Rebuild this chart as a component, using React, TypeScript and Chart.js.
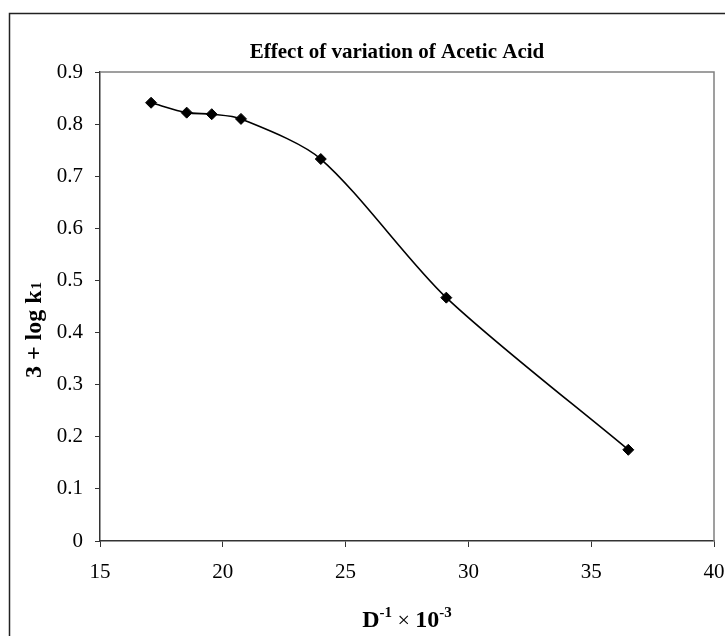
import React, { useEffect, useRef } from 'react';
import { Chart, registerables } from 'chart.js';

Chart.register(...registerables);

const TITLE = 'Effect of variation of Acetic Acid';
const Y_TITLE_MAIN = '3 + log k';
const Y_TITLE_SUB = '1';
const X_TITLE_PARTS = [
  { text: 'D', kind: 'main' },
  { text: '-1', kind: 'sup' },
  { text: ' \u00d7 ', kind: 'plain' },
  { text: '10', kind: 'main' },
  { text: '-3', kind: 'sup' },
];

const X_VALUES = [17.08, 18.53, 19.55, 20.74, 23.99, 29.1, 36.51];
const Y_VALUES = [0.841, 0.822, 0.819, 0.81, 0.733, 0.467, 0.175];
const X_TICKS = [15, 20, 25, 30, 35, 40];
const Y_TICKS = [0, 0.1, 0.2, 0.3, 0.4, 0.5, 0.6, 0.7, 0.8, 0.9];

const SERIF = '"Liberation Serif", "Times New Roman", serif';

const decorPlugin = {
  id: 'decor',
  beforeDatasetsDraw(chart: any) {
    const ctx = chart.ctx;
    const a = chart.chartArea;
    ctx.save();
    ctx.strokeStyle = '#808080';
    ctx.lineWidth = 1.5;
    ctx.beginPath();
    ctx.moveTo(a.left, a.top);
    ctx.lineTo(a.right, a.top);
    ctx.lineTo(a.right, a.bottom);
    ctx.stroke();
    ctx.restore();
  },
  afterDraw(chart: any) {
    const ctx = chart.ctx;
    const a = chart.chartArea;
    ctx.save();
    // outer frame
    ctx.strokeStyle = '#222';
    ctx.lineWidth = 1.5;
    ctx.strokeRect(9.5, 13.5, 900, 900);

    // chart title
    ctx.fillStyle = '#000';
    ctx.font = `bold 21px ${SERIF}`;
    ctx.textAlign = 'center';
    ctx.textBaseline = 'alphabetic';
    ctx.fillText(TITLE, 397, 58);

    // y axis title (rotated)
    ctx.save();
    ctx.translate(33, 330);
    ctx.rotate(-Math.PI / 2);
    ctx.textAlign = 'left';
    ctx.textBaseline = 'alphabetic';
    const mainFont = `bold 24px ${SERIF}`;
    const subFont = `bold 15px ${SERIF}`;
    ctx.font = mainFont;
    const wMain = ctx.measureText(Y_TITLE_MAIN).width;
    ctx.font = subFont;
    const wSub = ctx.measureText(Y_TITLE_SUB).width;
    const total = wMain + wSub + 1;
    const x0 = -total / 2;
    ctx.font = mainFont;
    ctx.fillText(Y_TITLE_MAIN, x0, 8);
    ctx.font = subFont;
    ctx.fillText(Y_TITLE_SUB, x0 + wMain + 1, 8);
    ctx.restore();

    // x axis title with superscripts
    const fonts: Record<string, string> = {
      main: `bold 24px ${SERIF}`,
      sup: `bold 15px ${SERIF}`,
      plain: `22px ${SERIF}`,
    };
    const offs: Record<string, number> = { main: 0, sup: -10, plain: 0 };
    ctx.textAlign = 'left';
    ctx.textBaseline = 'alphabetic';
    let tw = 0;
    const widths = X_TITLE_PARTS.map((p) => {
      ctx.font = fonts[p.kind];
      const w = ctx.measureText(p.text).width;
      tw += w;
      return w;
    });
    let cx = (a.left + a.right) / 2 - tw / 2;
    const baseY = 627;
    X_TITLE_PARTS.forEach((p, i) => {
      ctx.font = fonts[p.kind];
      ctx.fillText(p.text, cx, baseY + offs[p.kind]);
      cx += widths[i];
    });
    ctx.restore();
  },
};

export default function App() {
  const ref = useRef<HTMLCanvasElement>(null);
  useEffect(() => {
    const canvas = ref.current;
    if (!canvas) return;
    const chart = new Chart(canvas, {
      type: 'scatter',
      data: {
        datasets: [
          {
            data: X_VALUES.map((x, i) => ({ x, y: Y_VALUES[i] })),
            showLine: true,
            borderColor: '#000',
            borderWidth: 1.6,
            tension: 0.28,
            pointStyle: 'rectRot',
            pointRadius: 5.5,
            pointBackgroundColor: '#000',
            pointBorderColor: '#000',
            pointBorderWidth: 1,
          },
        ],
      },
      options: {
        responsive: false,
        animation: false,
        devicePixelRatio: 1,
        layout: { padding: { top: 72, left: 0, right: 11, bottom: 0 } },
        plugins: {
          legend: { display: false },
          tooltip: { enabled: false },
          title: { display: false },
        },
        scales: {
          x: {
            type: 'linear',
            min: 15,
            max: 40,
            afterBuildTicks: (s: any) => {
              s.ticks = X_TICKS.map((v) => ({ value: v }));
            },
            afterFit: (s: any) => {
              s.height = 95;
              s.paddingLeft = 0;
              s.paddingRight = 0;
            },
            grid: { drawOnChartArea: false, drawTicks: true, tickLength: 6, color: '#333', lineWidth: 1 },
            border: { display: true, color: '#333', width: 1.5 },
            ticks: {
              color: '#000',
              font: { family: SERIF, size: 21 },
              padding: 13,
              maxRotation: 0,
              callback: (v: any) => String(v),
            },
          },
          y: {
            type: 'linear',
            min: 0,
            max: 0.9,
            afterBuildTicks: (s: any) => {
              s.ticks = Y_TICKS.map((v) => ({ value: v }));
            },
            afterFit: (s: any) => {
              s.width = 100;
              s.paddingTop = 0;
              s.paddingBottom = 0;
            },
            grid: { drawOnChartArea: false, drawTicks: true, tickLength: 5, color: '#333', lineWidth: 1 },
            border: { display: true, color: '#333', width: 1.5 },
            ticks: {
              color: '#000',
              font: { family: SERIF, size: 21 },
              padding: 12,
              callback: (v: any) => String(Number(Number(v).toFixed(1))),
            },
          },
        },
      },
      plugins: [decorPlugin],
    } as any);
    return () => chart.destroy();
  }, []);
  return (
    <div style={{ position: 'fixed', left: 0, top: 0, width: 725, height: 636, overflow: 'hidden', background: '#fff' }}>
      <canvas ref={ref} width={725} height={636} style={{ display: 'block' }} />
    </div>
  );
}
